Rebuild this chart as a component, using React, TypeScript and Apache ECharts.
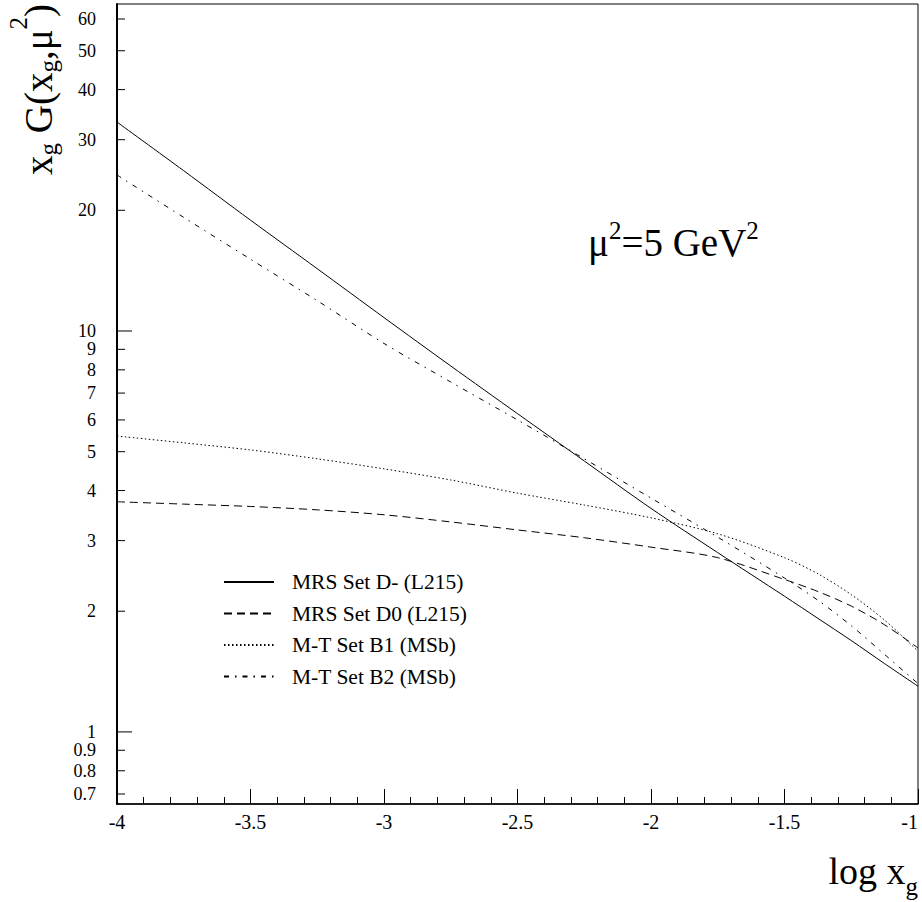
import React, { useEffect, useRef } from "react";
import * as echarts from "echarts";

// x positions (log10 x_g)
const xVals = [-4, -3.75, -3.5, -3.25, -3, -2.75, -2.5, -2.25, -2, -1.75, -1.5, -1.375, -1.25, -1.125, -1];
// x_g G(x_g, mu^2) values
const mrsDMinus = [33.2, 25.1, 18.9, 14.3, 10.8, 8.18, 6.22, 4.74, 3.61, 2.8, 2.18, 1.92, 1.69, 1.48, 1.3];
const mrsD0 = [3.75, 3.7, 3.65, 3.58, 3.48, 3.34, 3.19, 3.05, 2.89, 2.72, 2.4, 2.24, 2.06, 1.85, 1.62];
const mtB1 = [5.47, 5.26, 5.05, 4.8, 4.53, 4.25, 3.94, 3.68, 3.42, 3.12, 2.72, 2.48, 2.2, 1.9, 1.59];
const mtB2 = [24.5, 19.2, 15.1, 11.9, 9.31, 7.46, 6.0, 4.8, 3.83, 3.06, 2.42, 2.13, 1.84, 1.56, 1.32];

const seriesNames = ["MRS Set D- (L215)", "MRS Set D0 (L215)", "M-T Set B1 (MSb)", "M-T Set B2 (MSb)"];

const yTickValues = [0.7, 0.8, 0.9, 1, 2, 3, 4, 5, 6, 7, 8, 9, 10, 20, 30, 40, 50, 60];
const yTickLabels = ["0.7", "0.8", "0.9", "1", "2", "3", "4", "5", "6", "7", "8", "9", "10", "20", "30", "40", "50", "60"];
const yMajorTicks = [1, 10];

const FONT = "'Liberation Serif', 'Times New Roman', serif";

export default function App() {
  const ref = useRef<HTMLDivElement>(null);

  useEffect(() => {
    if (!ref.current) return;
    const chart = echarts.init(ref.current, undefined, { renderer: "svg" });

    const pair = (ys: number[]) => xVals.map((x, i) => [x, ys[i]]);
    const lineSeries = (name: string, ys: number[], type: any) => ({
      name,
      type: "line",
      data: pair(ys),
      symbol: "none",
      smooth: 0.3,
      lineStyle: { color: "#000", width: 1, type },
      itemStyle: { color: "#000" },
      silent: true,
    });

    const small = 25;

    chart.setOption({
      animation: false,
      backgroundColor: "#fff",
      grid: {
        left: 117,
        right: 4,
        top: 4,
        bottom: 98,
        show: true,
        borderColor: "#000",
        borderWidth: 1,
        backgroundColor: "transparent",
        containLabel: false,
        outerBoundsMode: "none",
      },
      xAxis: {
        type: "value",
        min: -4,
        max: -1,
        interval: 0.5,
        axisLine: { show: true, lineStyle: { color: "#000", width: 1.5 } },
        axisTick: { show: true, inside: true, length: 15, lineStyle: { color: "#000", width: 1 } },
        minorTick: { show: true, splitNumber: 5, length: 7, lineStyle: { color: "#000", width: 1 } },
        splitLine: { show: false },
        minorSplitLine: { show: false },
        axisLabel: {
          color: "#000",
          fontSize: 20,
          fontFamily: FONT,
          margin: 8,
          hideOverlap: false,
          alignMaxLabel: "right",
        },
      },
      yAxis: {
        type: "log",
        logBase: 10,
        min: 0.661,
        max: 65.4,
        axisLine: { show: true, lineStyle: { color: "#000", width: 2 } },
        axisTick: { show: false },
        axisLabel: { show: false },
        splitLine: { show: false },
      },
      legend: {
        orient: "vertical",
        left: 218,
        top: 566,
        itemWidth: 50,
        itemHeight: 22,
        itemGap: 9.5,
        selectedMode: false,
        data: seriesNames,
        itemStyle: { opacity: 0, borderWidth: 0 },
        textStyle: { color: "#000", fontSize: 21.5, fontFamily: FONT, lineHeight: 22, padding: [0, 0, 0, 13] },
      },
      graphic: [
        {
          type: "text",
          x: 588,
          y: 242,
          style: {
            text: "{a|μ}{s|2}{a|=5 GeV}{s|2}",
            align: "left",
            verticalAlign: "middle",
            fill: "#000",
            rich: {
              a: { fontSize: 39, fontFamily: FONT, fill: "#000" },
              s: { fontSize: small, fontFamily: FONT, fill: "#000", padding: [0, 0, 24, 0] },
            },
          },
        },
        {
          type: "text",
          x: 918,
          y: 871,
          style: {
            text: "{a|log x}{b|g}",
            align: "right",
            verticalAlign: "middle",
            fill: "#000",
            rich: {
              a: { fontSize: 38, fontFamily: FONT, fill: "#000" },
              b: { fontSize: small, fontFamily: FONT, fill: "#000", padding: [30, 0, 0, 0] },
            },
          },
        },
        {
          type: "text",
          x: 38,
          y: 175,
          rotation: Math.PI / 2,
          style: {
            text: "{a|x}{b|g}{a| G(x}{b|g}{a|,μ}{s|2}{a|)}",
            align: "left",
            verticalAlign: "middle",
            fill: "#000",
            rich: {
              a: { fontSize: 39, fontFamily: FONT, fill: "#000" },
              b: { fontSize: small, fontFamily: FONT, fill: "#000", padding: [20, 0, 0, 0] },
              s: { fontSize: small, fontFamily: FONT, fill: "#000", padding: [0, 0, 40, 0] },
            },
          },
        },
      ],
      series: [
        lineSeries(seriesNames[0], mrsDMinus, "solid"),
        lineSeries(seriesNames[1], mrsD0, [8, 5]),
        lineSeries(seriesNames[2], mtB1, [1.5, 2.5]),
        lineSeries(seriesNames[3], mtB2, [5, 6, 1.5, 6]),
        {
          type: "custom",
          silent: true,
          clip: false,
          z: 10,
          data: yTickValues.map((v) => [-4, v]),
          encode: { x: 0, y: 1 },
          renderItem: (params: any, api: any) => {
            const v = api.value(1);
            const p = api.coord([-4, v]);
            const len = yMajorTicks.indexOf(v) >= 0 ? 15 : 8;
            return {
              type: "group",
              children: [
                {
                  type: "line",
                  shape: { x1: p[0], y1: p[1], x2: p[0] + len, y2: p[1] },
                  style: { stroke: "#000", lineWidth: 1 },
                },
                {
                  type: "text",
                  x: p[0] - 21,
                  y: p[1],
                  style: {
                    text: yTickLabels[params.dataIndex],
                    align: "right",
                    verticalAlign: "middle",
                    fill: "#000",
                    fontSize: 18,
                    fontFamily: FONT,
                    lineHeight: 17,
                  },
                },
              ],
            };
          },
        },
      ],
    });

    return () => chart.dispose();
  }, []);

  return (
    <div
      ref={ref}
      style={{ position: "absolute", left: 0, top: 0, width: 922, height: 902, background: "#fff" }}
    />
  );
}
